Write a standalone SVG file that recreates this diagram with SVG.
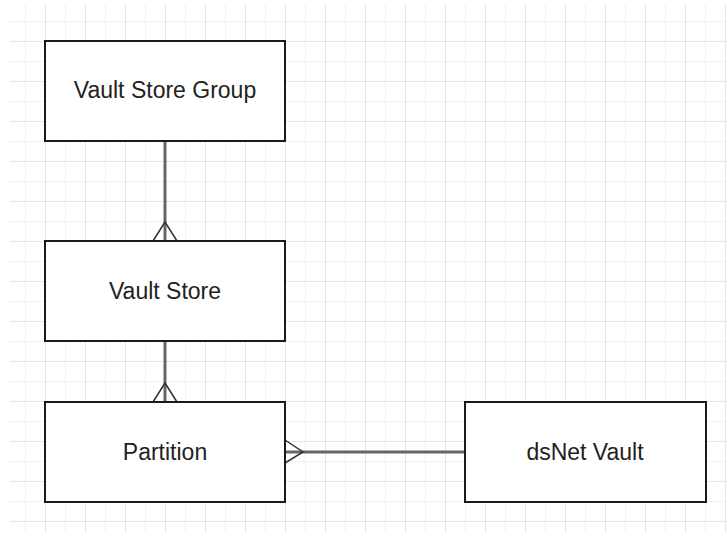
<svg xmlns="http://www.w3.org/2000/svg" width="727" height="533" viewBox="0 0 727 533">
<defs>
<pattern id="grid" x="5" y="1" width="40" height="40" patternUnits="userSpaceOnUse">
<path d="M0 0.5H40M0.5 0V40" fill="none" stroke="#e4e4ec" stroke-width="1"/>
<path d="M0 20.5H40M20.5 0V40" fill="none" stroke="#efeff4" stroke-width="1"/>
</pattern>
<style>
.box{fill:#fff;stroke:#1a1a1a;stroke-width:2}
.lbl{font-family:"Liberation Sans",Arial,sans-serif;font-size:23px;fill:#222;text-anchor:middle}
.conn{fill:none;stroke:#666;stroke-width:3}
.crow{fill:none;stroke:#333;stroke-width:1.5}
</style>
</defs>
<rect width="727" height="533" fill="#fff"/>
<rect x="10" y="4" width="717" height="529" fill="url(#grid)"/>
<g id="connectors">
<line class="conn" x1="165" y1="141" x2="165" y2="241"/>
<path class="crow" d="M153 241L165 222L177 241"/>
<line class="conn" x1="165" y1="341" x2="165" y2="402"/>
<path class="crow" d="M153 402L165 383L177 402"/>
<line class="conn" x1="285" y1="452" x2="465" y2="452"/>
<path class="crow" d="M285 440L303 452L285 463"/>
</g>
<g id="vault-store-group">
<rect class="box" x="45" y="41" width="240" height="100"/>
<text class="lbl" x="165" y="98">Vault Store Group</text>
</g>
<g id="vault-store">
<rect class="box" x="45" y="241" width="240" height="100"/>
<text class="lbl" x="165" y="299">Vault Store</text>
</g>
<g id="partition">
<rect class="box" x="45" y="402" width="240" height="100"/>
<text class="lbl" x="165" y="460">Partition</text>
</g>
<g id="dsnet-vault">
<rect class="box" x="465" y="402" width="241" height="100"/>
<text class="lbl" x="585" y="460">dsNet Vault</text>
</g>
</svg>
